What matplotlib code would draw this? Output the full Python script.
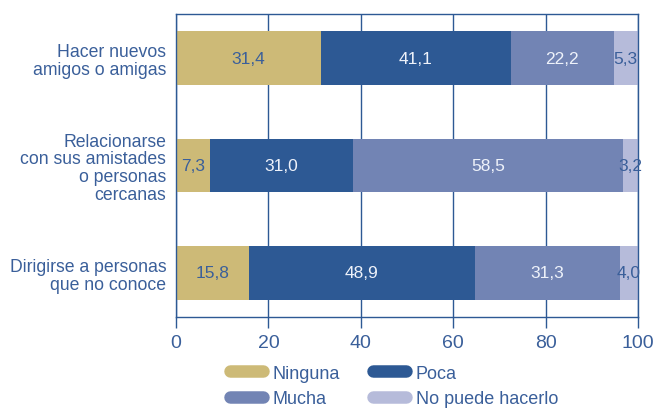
import numpy as np
import matplotlib.pyplot as plt
from matplotlib.lines import Line2D

# datos
categorias = ['Hacer nuevos\namigos o amigas',
              'Relacionarse\ncon sus amistades\no personas\ncercanas',
              'Dirigirse a personas\nque no conoce']
series = ['Ninguna', 'Poca', 'Mucha', 'No puede hacerlo']
ninguna = [31.4, 7.3, 15.8]
poca = [41.1, 31.0, 48.9]
mucha = [22.2, 58.5, 31.3]
no_puede = [5.3, 3.2, 4.0]

colores = ['#cdba77', '#2d5994', '#7284b4', '#b6bbda']
col_texto = ['#3a5f9a', '#eef2fa', '#eef2fa', '#3a5f9a']
azul = '#2d5994'
azul_txt = '#3a5f9a'

plt.rcParams['font.family'] = ['Liberation Sans', 'DejaVu Sans']

fig = plt.figure(figsize=(6.54, 4.10), dpi=100)
ax = fig.add_axes([176 / 654, 1 - 318 / 410, 462 / 654, 303 / 410])

y = np.arange(len(categorias))
izq = np.zeros(len(categorias))
for nombre, valores, c, ct in zip(series, [ninguna, poca, mucha, no_puede], colores, col_texto):
    barras = ax.barh(y, valores, left=izq, height=0.5, color=c, zorder=2, label=nombre)
    etiquetas = [f'{v:.1f}'.replace('.', ',') for v in valores]
    ax.bar_label(barras, labels=etiquetas, label_type='center', color=ct, fontsize=12.5)
    izq += np.array(valores)

ax.set_xlim(0, 100)
ax.set_ylim(2.41, -0.41)
ax.set_yticks(y)
ax.set_yticklabels(categorias, fontsize=12.7, color=azul_txt, ha='right',
                   multialignment='right', linespacing=1.06)
ax.set_xticks(range(0, 101, 20))
ax.tick_params(axis='y', length=0, pad=7)
ax.tick_params(axis='x', length=8, width=1, color=azul, labelsize=14, labelcolor=azul_txt, pad=4)
for s in ax.spines.values():
    s.set_color(azul)
    s.set_linewidth(1)
ax.grid(axis='x', color=azul, linewidth=1, zorder=0)
ax.set_axisbelow(True)

# leyenda con marcas redondeadas
orden = [0, 2, 1, 3]
manijas = [Line2D([0], [0], color=colores[i], lw=9, solid_capstyle='round') for i in orden]
fig.legend(manijas, [series[i] for i in orden], ncol=2, frameon=False,
           loc='center left', bbox_to_anchor=(230 / 654, 1 - 387 / 410),
           borderpad=0, borderaxespad=0,
           fontsize=13, labelcolor=azul_txt, handlelength=1.8, handletextpad=0.55,
           columnspacing=1.85, labelspacing=0.48)

fig.savefig('out.png', dpi=100)
